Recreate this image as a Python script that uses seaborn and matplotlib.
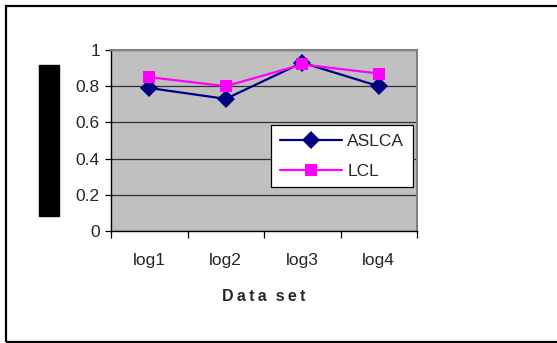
import matplotlib
matplotlib.use("Agg")
import matplotlib.pyplot as plt
import pandas as pd
import seaborn as sns
from matplotlib.patches import Rectangle

# chart data
datasets = ["log1", "log2", "log3", "log4"]
aslca = [0.79, 0.73, 0.93, 0.80]
lcl = [0.85, 0.80, 0.92, 0.87]
series_names = ["ASLCA", "LCL"]
y_ticks = [0, 0.2, 0.4, 0.6, 0.8, 1]
y_tick_labels = ["0", "0.2", "0.4", "0.6", "0.8", "1"]

df = pd.DataFrame({
    "Data set": datasets * 2,
    "pos": list(range(len(datasets))) * 2,
    "value": aslca + lcl,
    "series": [series_names[0]] * len(datasets) + [series_names[1]] * len(datasets),
})

sns.set_theme(style="white")
plt.rcParams["font.family"] = ["Liberation Sans", "DejaVu Sans"]

W, H = 557, 343
fig = plt.figure(figsize=(W / 100, H / 100), dpi=100)
# plot area in pixels: x 111..417, y 50..231
ax = fig.add_axes([111 / W, 1 - 231 / H, 306 / W, 181 / H])
ax.set_facecolor("#C0C0C0")

palette = {"ASLCA": "#000080", "LCL": "#FF00FF"}
sns.lineplot(
    data=df, x="pos", y="value", hue="series", style="series",
    palette=palette, markers={"ASLCA": "D", "LCL": "s"}, dashes=False,
    markersize=9, linewidth=1.6, markeredgewidth=0, ax=ax,
)

ax.set_xlim(-0.5, len(datasets) - 0.5)
ax.set_ylim(0, 1)
ax.set_yticks(y_ticks)
ax.set_yticklabels(y_tick_labels, fontsize=12.5)
ax.yaxis.grid(True, color="#303030", linewidth=0.9)
ax.set_axisbelow(True)

# ticks on category boundaries, labels centred on categories
ax.set_xticks([i - 0.5 for i in range(len(datasets) + 1)])
ax.set_xticklabels([])
ax.set_xticks(range(len(datasets)), minor=True)
ax.set_xticklabels(datasets, minor=True, fontsize=12.5)
ax.tick_params(axis="x", which="major", length=5, width=0.9, color="black", direction="out", bottom=True)
ax.tick_params(axis="x", which="minor", length=0, pad=16)
ax.tick_params(axis="y", length=4, width=0.9, color="black", direction="out", left=True, pad=4)

for s in ["top", "right"]:
    ax.spines[s].set_color("#808080")
    ax.spines[s].set_linewidth(1.5)
for s in ["left", "bottom"]:
    ax.spines[s].set_color("black")
    ax.spines[s].set_linewidth(1.0)

ax.set_xlabel("D\u2009a\u2009t\u2009a  s\u2009e\u2009t", fontsize=11.5, fontweight="bold", labelpad=15)
ax.set_ylabel("")

handles, labels = ax.get_legend_handles_labels()
leg = ax.legend(
    handles, labels, loc="upper left",
    bbox_to_anchor=((271 - 111) / 306, (231 - 125) / 181),
    fontsize=12.5, frameon=True, fancybox=False, framealpha=1,
    edgecolor="black", handlelength=3.6, borderpad=0.5, labelspacing=0.85,
    handletextpad=0.3, borderaxespad=0,
)
leg.get_frame().set_linewidth(0.9)

# redacted y label block
fig.patches.append(Rectangle((39 / W, 1 - 216 / H), 20 / W, 151 / H,
                             transform=fig.transFigure, color="black"))
# outer chart border
fig.patches.append(Rectangle((6 / W, 1 / H), 560 / W, 1 - 7 / H,
                             transform=fig.transFigure, fill=False,
                             edgecolor="black", linewidth=1.6))

fig.savefig("out.png", dpi=100)
